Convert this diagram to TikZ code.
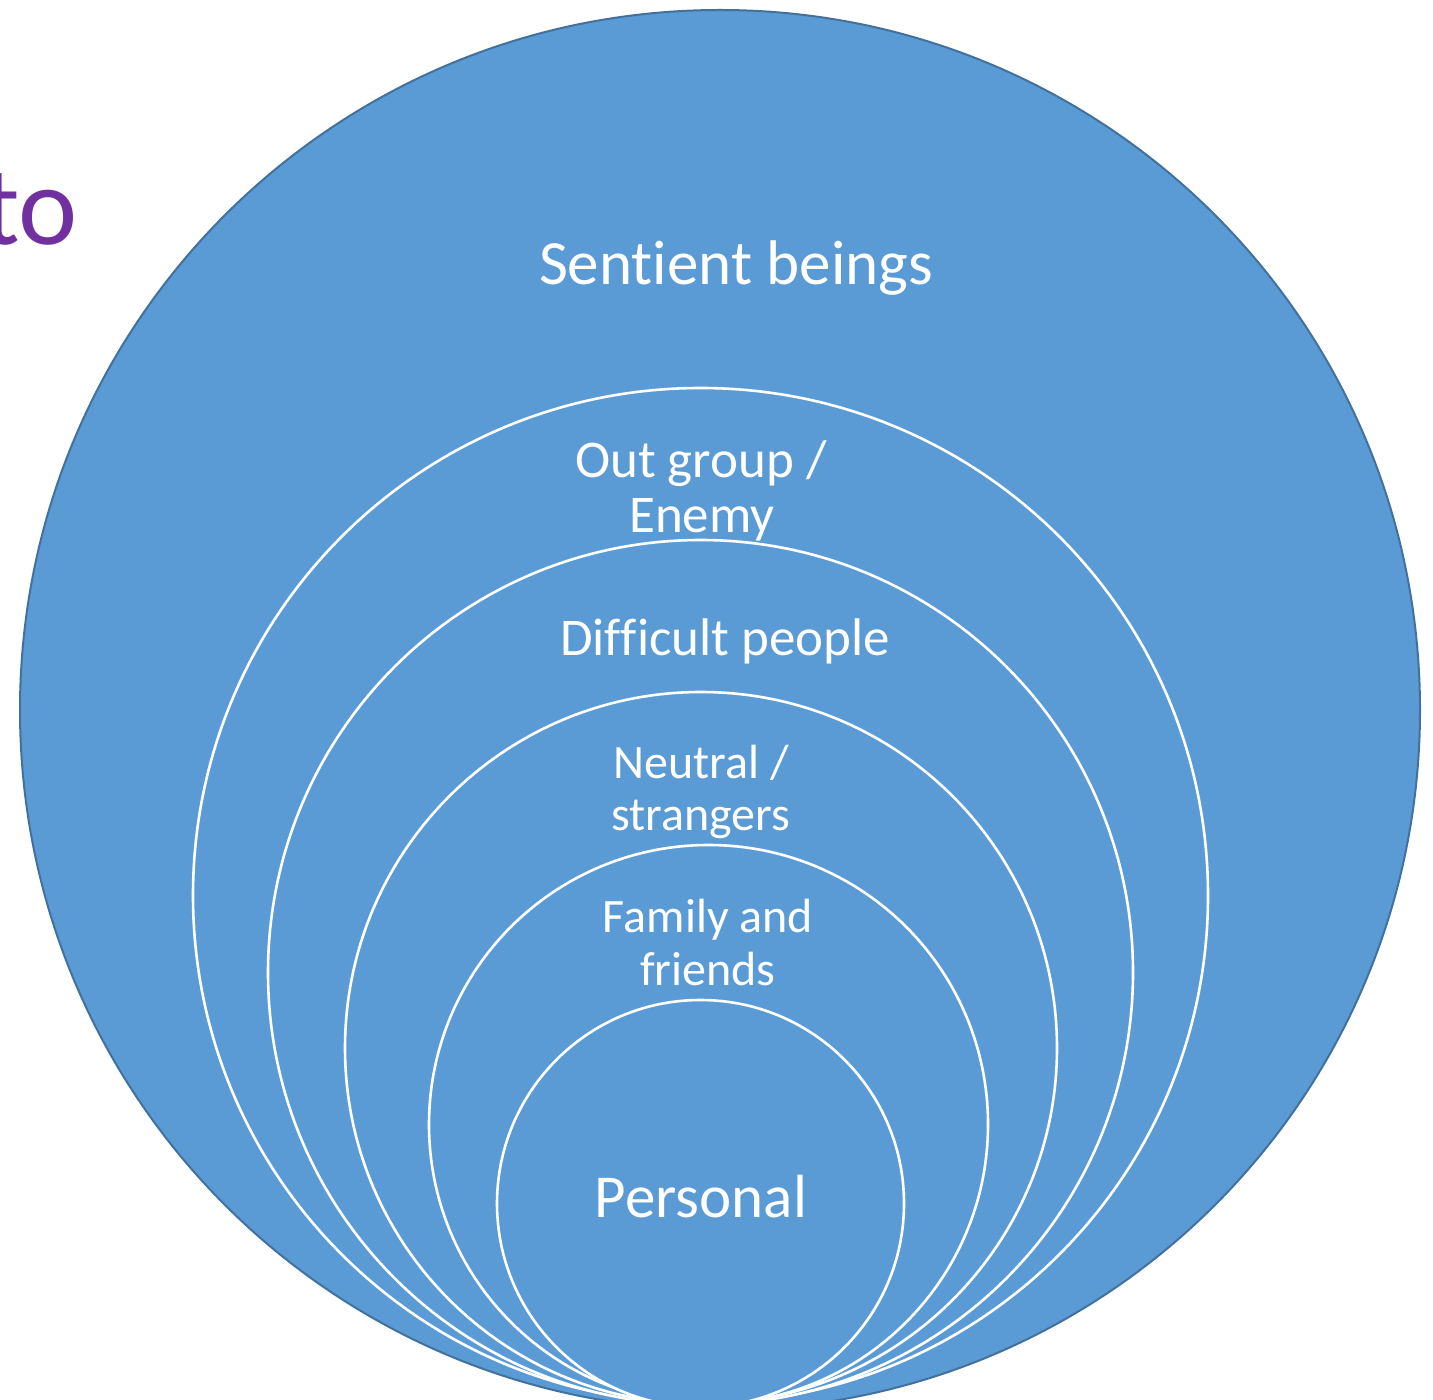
\documentclass[tikz,border=0pt]{standalone}
\usepackage{fontspec}
\setmainfont{Carlito}[Ligatures={NoCommon,NoContextual}]
\definecolor{ringfill}{HTML}{5B9BD5}
\definecolor{ringedge}{HTML}{41719C}
\definecolor{titlepurple}{HTML}{7030A0}
\newcommand{\nolig}{\kern0pt }
\begin{document}
\begin{tikzpicture}[x=0.5pt,y=-0.5pt,
  ring/.style={draw=white,line width=1.3pt,fill=ringfill},
  outer/.style={draw=ringedge,line width=1pt,fill=ringfill},
  lbl/.style={text=white,align=center,inner sep=0pt},
  big/.style={font=\fontsize{31.5pt}{36pt}\selectfont},
  pers/.style={font=\fontsize{30.5pt}{36pt}\selectfont},
  midl/.style={font=\fontsize{26.5pt}{30pt}\selectfont},
  mid/.style={font=\fontsize{24pt}{27pt}\selectfont}]
\useasboundingbox (0,0) rectangle (1433,1400);
\clip (0,0) rectangle (1433,1400);
\node[anchor=base east,text=titlepurple,inner sep=0pt,font=\fontsize{56pt}{60pt}\selectfont] (title) at (78,245) {to};
\path[outer] (720,710) circle[radius=700];
\path[ring] (700.5,895.5) circle[radius=507.5];
\path[ring] (700.5,972.5) circle[radius=432.5];
\path[ring] (701,1048) circle[radius=356];
\path[ring] (708.5,1124.5) circle[radius=279.5];
\path[ring] (700.5,1203.5) circle[radius=203.5];
\node[lbl,big,anchor=base] (sentient) at (736,285) {Sent\nolig ient beings};
\node[lbl,midl,anchor=base] (outgroup) at (701,478) {Out group /};
\node[lbl,midl,anchor=base] (enemy) at (702,533) {Enemy};
\node[lbl,midl,anchor=base] (difficult) at (725,655) {Dif\nolig f\nolig icult people};
\node[lbl,mid,anchor=base] (neutral) at (701,778) {Neutral /};
\node[lbl,mid,anchor=base] (strangers) at (701,830) {strangers};
\node[lbl,mid,anchor=base] (family) at (708,932) {Family and};
\node[lbl,mid,anchor=base] (friends) at (708,985) {friends};
\node[lbl,pers,anchor=base] (personal) at (701,1217) {Personal};
\end{tikzpicture}
\end{document}
